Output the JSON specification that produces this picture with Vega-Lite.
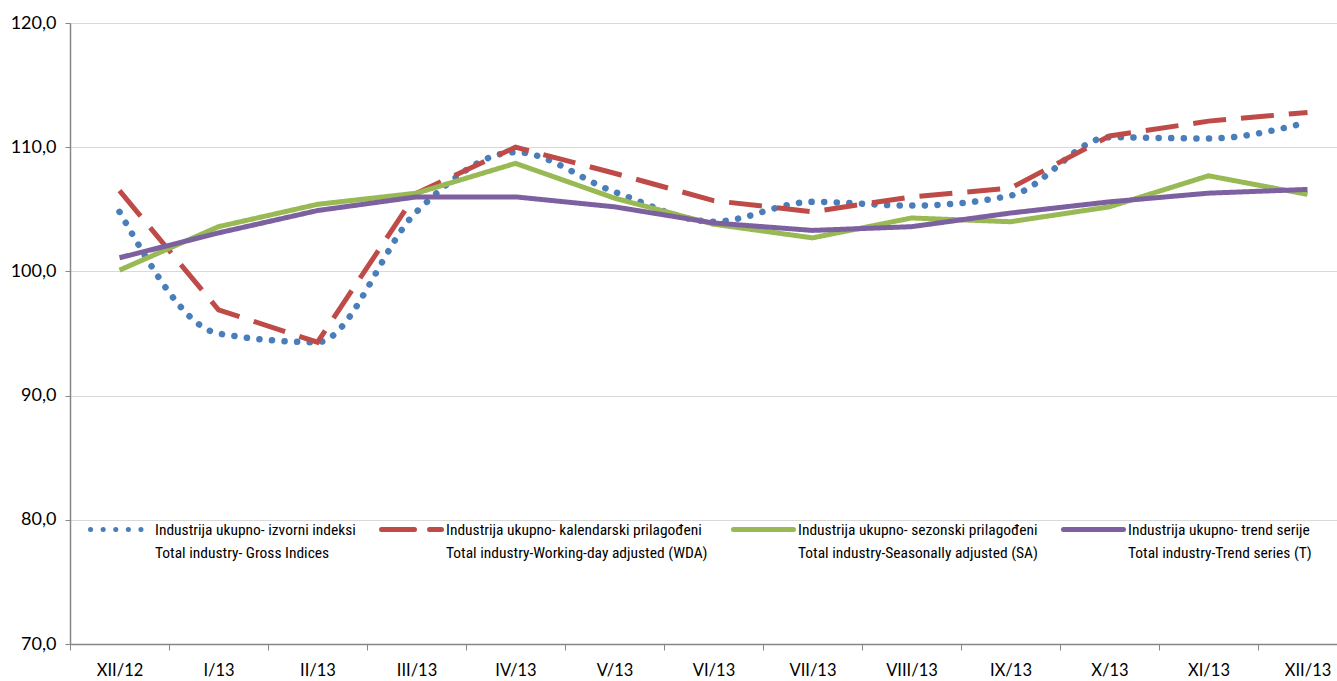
{
  "$schema": "https://vega.github.io/schema/vega-lite/v6.json",
  "autosize": {"type": "none"},
  "padding": {"left": 70, "top": 23, "right": 0, "bottom": 37},
  "width": 1267,
  "height": 621,
  "background": "white",
  "config": {
    "view": {"stroke": null},
    "font": "Roboto Condensed, DejaVu Sans Condensed, sans-serif",
    "style": {"guide-label": {"lineHeight": 23}}
  },
  "datasets": {
    "rows": [
      {"month": "XII/12", "series": "Industrija ukupno- izvorni indeksi / Total industry- Gross Indices", "value": 104.8},
      {"month": "I/13", "series": "Industrija ukupno- izvorni indeksi / Total industry- Gross Indices", "value": 95.0},
      {"month": "II/13", "series": "Industrija ukupno- izvorni indeksi / Total industry- Gross Indices", "value": 94.3},
      {"month": "III/13", "series": "Industrija ukupno- izvorni indeksi / Total industry- Gross Indices", "value": 104.8},
      {"month": "IV/13", "series": "Industrija ukupno- izvorni indeksi / Total industry- Gross Indices", "value": 109.6},
      {"month": "V/13", "series": "Industrija ukupno- izvorni indeksi / Total industry- Gross Indices", "value": 106.4},
      {"month": "VI/13", "series": "Industrija ukupno- izvorni indeksi / Total industry- Gross Indices", "value": 104.0},
      {"month": "VII/13", "series": "Industrija ukupno- izvorni indeksi / Total industry- Gross Indices", "value": 105.6},
      {"month": "VIII/13", "series": "Industrija ukupno- izvorni indeksi / Total industry- Gross Indices", "value": 105.3},
      {"month": "IX/13", "series": "Industrija ukupno- izvorni indeksi / Total industry- Gross Indices", "value": 106.1},
      {"month": "X/13", "series": "Industrija ukupno- izvorni indeksi / Total industry- Gross Indices", "value": 110.8},
      {"month": "XI/13", "series": "Industrija ukupno- izvorni indeksi / Total industry- Gross Indices", "value": 110.7},
      {"month": "XII/13", "series": "Industrija ukupno- izvorni indeksi / Total industry- Gross Indices", "value": 112.0},

      {"month": "XII/12", "series": "Industrija ukupno- kalendarski prilagođeni / Total industry-Working-day adjusted (WDA)", "value": 106.5},
      {"month": "I/13", "series": "Industrija ukupno- kalendarski prilagođeni / Total industry-Working-day adjusted (WDA)", "value": 96.9},
      {"month": "II/13", "series": "Industrija ukupno- kalendarski prilagođeni / Total industry-Working-day adjusted (WDA)", "value": 94.3},
      {"month": "III/13", "series": "Industrija ukupno- kalendarski prilagođeni / Total industry-Working-day adjusted (WDA)", "value": 106.3},
      {"month": "IV/13", "series": "Industrija ukupno- kalendarski prilagođeni / Total industry-Working-day adjusted (WDA)", "value": 110.0},
      {"month": "V/13", "series": "Industrija ukupno- kalendarski prilagođeni / Total industry-Working-day adjusted (WDA)", "value": 107.9},
      {"month": "VI/13", "series": "Industrija ukupno- kalendarski prilagođeni / Total industry-Working-day adjusted (WDA)", "value": 105.7},
      {"month": "VII/13", "series": "Industrija ukupno- kalendarski prilagođeni / Total industry-Working-day adjusted (WDA)", "value": 104.8},
      {"month": "VIII/13", "series": "Industrija ukupno- kalendarski prilagođeni / Total industry-Working-day adjusted (WDA)", "value": 106.0},
      {"month": "IX/13", "series": "Industrija ukupno- kalendarski prilagođeni / Total industry-Working-day adjusted (WDA)", "value": 106.7},
      {"month": "X/13", "series": "Industrija ukupno- kalendarski prilagođeni / Total industry-Working-day adjusted (WDA)", "value": 110.9},
      {"month": "XI/13", "series": "Industrija ukupno- kalendarski prilagođeni / Total industry-Working-day adjusted (WDA)", "value": 112.1},
      {"month": "XII/13", "series": "Industrija ukupno- kalendarski prilagođeni / Total industry-Working-day adjusted (WDA)", "value": 112.8},

      {"month": "XII/12", "series": "Industrija ukupno- sezonski prilagođeni / Total industry-Seasonally adjusted (SA)", "value": 100.1},
      {"month": "I/13", "series": "Industrija ukupno- sezonski prilagođeni / Total industry-Seasonally adjusted (SA)", "value": 103.6},
      {"month": "II/13", "series": "Industrija ukupno- sezonski prilagođeni / Total industry-Seasonally adjusted (SA)", "value": 105.4},
      {"month": "III/13", "series": "Industrija ukupno- sezonski prilagođeni / Total industry-Seasonally adjusted (SA)", "value": 106.3},
      {"month": "IV/13", "series": "Industrija ukupno- sezonski prilagođeni / Total industry-Seasonally adjusted (SA)", "value": 108.7},
      {"month": "V/13", "series": "Industrija ukupno- sezonski prilagođeni / Total industry-Seasonally adjusted (SA)", "value": 105.9},
      {"month": "VI/13", "series": "Industrija ukupno- sezonski prilagođeni / Total industry-Seasonally adjusted (SA)", "value": 103.8},
      {"month": "VII/13", "series": "Industrija ukupno- sezonski prilagođeni / Total industry-Seasonally adjusted (SA)", "value": 102.7},
      {"month": "VIII/13", "series": "Industrija ukupno- sezonski prilagođeni / Total industry-Seasonally adjusted (SA)", "value": 104.3},
      {"month": "IX/13", "series": "Industrija ukupno- sezonski prilagođeni / Total industry-Seasonally adjusted (SA)", "value": 104.0},
      {"month": "X/13", "series": "Industrija ukupno- sezonski prilagođeni / Total industry-Seasonally adjusted (SA)", "value": 105.2},
      {"month": "XI/13", "series": "Industrija ukupno- sezonski prilagođeni / Total industry-Seasonally adjusted (SA)", "value": 107.7},
      {"month": "XII/13", "series": "Industrija ukupno- sezonski prilagođeni / Total industry-Seasonally adjusted (SA)", "value": 106.2},

      {"month": "XII/12", "series": "Industrija ukupno- trend serije / Total industry-Trend series (T)", "value": 101.1},
      {"month": "I/13", "series": "Industrija ukupno- trend serije / Total industry-Trend series (T)", "value": 103.1},
      {"month": "II/13", "series": "Industrija ukupno- trend serije / Total industry-Trend series (T)", "value": 104.9},
      {"month": "III/13", "series": "Industrija ukupno- trend serije / Total industry-Trend series (T)", "value": 106.0},
      {"month": "IV/13", "series": "Industrija ukupno- trend serije / Total industry-Trend series (T)", "value": 106.0},
      {"month": "V/13", "series": "Industrija ukupno- trend serije / Total industry-Trend series (T)", "value": 105.2},
      {"month": "VI/13", "series": "Industrija ukupno- trend serije / Total industry-Trend series (T)", "value": 103.9},
      {"month": "VII/13", "series": "Industrija ukupno- trend serije / Total industry-Trend series (T)", "value": 103.3},
      {"month": "VIII/13", "series": "Industrija ukupno- trend serije / Total industry-Trend series (T)", "value": 103.6},
      {"month": "IX/13", "series": "Industrija ukupno- trend serije / Total industry-Trend series (T)", "value": 104.7},
      {"month": "X/13", "series": "Industrija ukupno- trend serije / Total industry-Trend series (T)", "value": 105.6},
      {"month": "XI/13", "series": "Industrija ukupno- trend serije / Total industry-Trend series (T)", "value": 106.3},
      {"month": "XII/13", "series": "Industrija ukupno- trend serije / Total industry-Trend series (T)", "value": 106.6}
    ]
  },
  "data": {"name": "rows"},
  "encoding": {
    "x": {
      "field": "month",
      "type": "ordinal",
      "sort": null,
      "scale": {"type": "band", "range": [0, 1287], "paddingInner": 0, "paddingOuter": 0},
      "bandPosition": 0.5,
      "axis": {
        "title": null,
        "labelAngle": 0,
        "labelFont": "Lato",
        "labelFontSize": 16.5,
        "labelColor": "#000000",
        "labelPadding": 12,
        "domainColor": "#868686",
        "domainWidth": 1.5,
        "tickColor": "#868686",
        "tickSize": 6,
        "tickBand": "extent",
        "grid": false
      }
    },
    "y": {
      "field": "value",
      "type": "quantitative",
      "scale": {"domain": [70, 120], "nice": false, "zero": false},
      "axis": {
        "title": null,
        "values": [70, 80, 90, 100, 110, 120],
        "labelExpr": "replace(format(datum.value, '.1f'), '.', ',')",
        "labelFont": "Lato",
        "labelFontSize": 18,
        "labelColor": "#000000",
        "labelPadding": 9,
        "domainColor": "#868686",
        "domainWidth": 1.5,
        "tickColor": "#868686",
        "tickSize": 5,
        "gridColor": "#D9D9D9",
        "gridWidth": 1.2
      }
    },
    "color": {
      "field": "series",
      "type": "nominal",
      "scale": {
        "domain": [
          "Industrija ukupno- izvorni indeksi / Total industry- Gross Indices",
          "Industrija ukupno- kalendarski prilagođeni / Total industry-Working-day adjusted (WDA)",
          "Industrija ukupno- sezonski prilagođeni / Total industry-Seasonally adjusted (SA)",
          "Industrija ukupno- trend serije / Total industry-Trend series (T)"
        ],
        "range": ["#4A7EBB", "#BE4B48", "#98B954", "#7D60A0"]
      },
      "legend": {
        "orient": "none",
        "legendX": 18,
        "legendY": 474,
        "direction": "horizontal",
        "title": null,
        "symbolType": "stroke",
        "symbolSize": 3600,
        "symbolStrokeWidth": 5,
        "labelExpr": "split(datum.label, ' / ')",
        "labelFont": "Roboto Condensed, DejaVu Sans Condensed, sans-serif",
        "labelFontSize": 15.5,
        "labelColor": "#000000",
        "labelLimit": 500,
        "labelOffset": 2,
        "columnPadding": 15,
        "encode": {"symbols": {"update": {"strokeCap": {"value": "round"}}}}
      }
    },
    "strokeDash": {
      "field": "series",
      "type": "nominal",
      "scale": {
        "domain": [
          "Industrija ukupno- izvorni indeksi / Total industry- Gross Indices",
          "Industrija ukupno- kalendarski prilagođeni / Total industry-Working-day adjusted (WDA)",
          "Industrija ukupno- sezonski prilagođeni / Total industry-Seasonally adjusted (SA)",
          "Industrija ukupno- trend serije / Total industry-Trend series (T)"
        ],
        "range": [[0.1, 12.5], [33, 15], [1, 0], [1, 0]]
      },
      "legend": null
    }
  },
  "layer": [
    {
      "transform": [{"filter": "indexof(datum.series, 'izvorni') >= 0"}],
      "mark": {"type": "line", "strokeWidth": 6.5, "strokeCap": "round", "interpolate": "monotone"}
    },
    {
      "transform": [{"filter": "indexof(datum.series, 'izvorni') < 0"}],
      "mark": {"type": "line", "strokeWidth": 5, "strokeCap": "butt", "interpolate": "linear"}
    }
  ]
}
